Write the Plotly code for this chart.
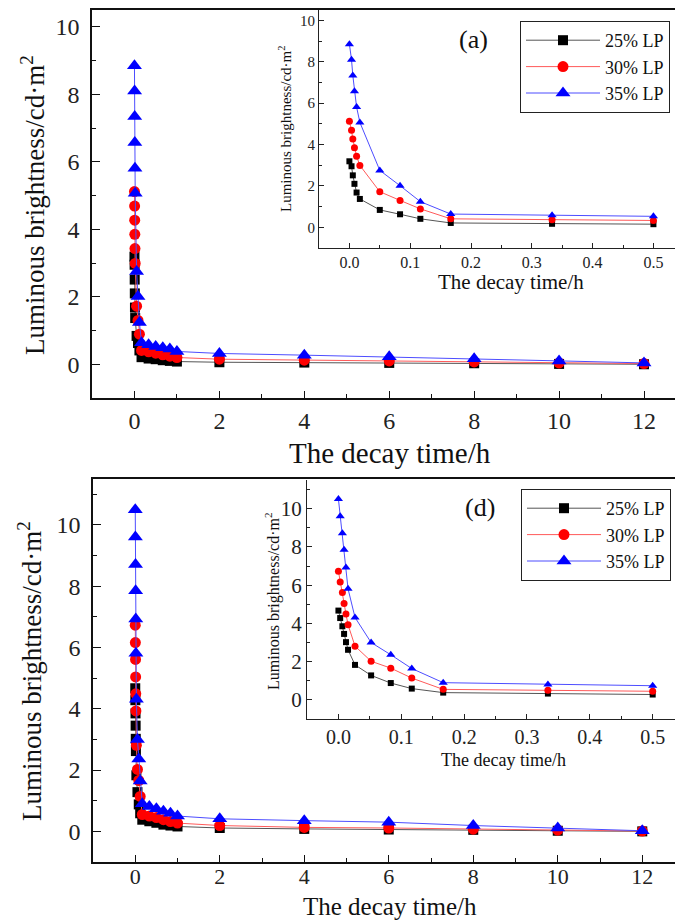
import plotly.graph_objects as go

# ---------------- data ----------------
series_names = ["25% LP", "30% LP", "35% LP"]

# panel (a)
t_a = [0, 0.0035, 0.0056, 0.0083, 0.0118, 0.0172, 0.05, 0.0833, 0.1167, 0.1667,
       0.3333, 0.5, 0.6667, 0.8333, 1, 2, 4, 6, 8, 10, 12]
a25 = [3.19, 2.95, 2.51, 2.10, 1.68, 1.37, 0.84, 0.63, 0.41, 0.21,
       0.17, 0.15, 0.12, 0.10, 0.08, 0.06, 0.05, 0.04, 0.03, 0.01, 0.0]
a30 = [5.12, 4.69, 4.27, 3.85, 3.43, 2.99, 1.72, 1.30, 0.89, 0.41,
       0.37, 0.33, 0.28, 0.24, 0.20, 0.15, 0.12, 0.10, 0.07, 0.04, 0.02]
a35 = [8.85, 8.10, 7.34, 6.57, 5.81, 5.07, 2.75, 2.01, 1.24, 0.64,
       0.58, 0.53, 0.49, 0.45, 0.38, 0.32, 0.27, 0.22, 0.16, 0.10, 0.04]

# panel (d)
t_d = [0, 0.0028, 0.0063, 0.009, 0.012, 0.0153, 0.0264, 0.052, 0.0833, 0.1167, 0.1667,
       0.3333, 0.5, 0.6667, 0.8333, 1, 2, 4, 6, 8, 10, 12]
d25 = [4.67, 4.28, 3.85, 3.45, 3.02, 2.62, 1.83, 1.28, 0.88, 0.59, 0.38,
       0.33, 0.28, 0.22, 0.19, 0.16, 0.11, 0.08, 0.06, 0.05, 0.02, 0.0]
d30 = [6.73, 6.16, 5.61, 5.04, 4.49, 3.93, 2.81, 2.02, 1.66, 1.14, 0.55,
       0.50, 0.45, 0.38, 0.32, 0.27, 0.19, 0.13, 0.11, 0.07, 0.04, 0.01]
d35 = [10.5, 9.61, 8.71, 7.85, 6.93, 5.81, 4.31, 3.00, 2.36, 1.64, 0.90,
       0.81, 0.74, 0.66, 0.59, 0.50, 0.41, 0.35, 0.30, 0.19, 0.11, 0.02]

main_xticks = [0, 2, 4, 6, 8, 10, 12]
inset_xticks = [0.0, 0.1, 0.2, 0.3, 0.4, 0.5]

# ---------------- styles ----------------
FONT = "Times New Roman, Liberation Serif, DejaVu Serif, serif"
W, H = 675, 921
marker_col = ["#000000", "#ff0000", "#0000ff"]
line_col = ["#555555", "#ff5a5a", "#4d4dff"]
symbols = ["square", "circle", "triangle-up"]
main_sizes = [10, 11, 13]
inset_sizes = [6, 7, 8]

def px_x(p):
    return p / W

def px_y(p):
    return 1 - p / H

fig = go.Figure()

def add_panel(t, ys, xa_main, ya_main, xa_in, ya_in, legend_name):
    for i, y in enumerate(ys):
        fig.add_trace(go.Scatter(
            x=t, y=y, mode="lines+markers", name=series_names[i],
            xaxis=xa_main, yaxis=ya_main, legend=legend_name, showlegend=True,
            line=dict(color=line_col[i], width=1),
            marker=dict(color=marker_col[i], symbol=symbols[i], size=main_sizes[i]),
            cliponaxis=False))
    for i, y in enumerate(ys):
        tt = [a for a in t if a <= 0.5]
        yy = [b for a, b in zip(t, y) if a <= 0.5]
        fig.add_trace(go.Scatter(
            x=tt, y=yy, mode="lines+markers", name=series_names[i],
            xaxis=xa_in, yaxis=ya_in, showlegend=False,
            line=dict(color=line_col[i], width=1),
            marker=dict(color=marker_col[i], symbol=symbols[i], size=inset_sizes[i]),
            cliponaxis=False))

add_panel(t_a, [a25, a30, a35], "x", "y", "x2", "y2", "legend")
add_panel(t_d, [d25, d30, d35], "x3", "y3", "x4", "y4", "legend2")

def tf(size):
    return dict(family=FONT, size=size, color="#222")

def main_x(domain, rng, anchor, standoff=0, size=24):
    return dict(domain=domain, range=rng, anchor=anchor, tickvals=main_xticks,
                showline=True, linecolor="#111", linewidth=1.5, mirror=True,
                ticks="inside", ticklen=7, tickwidth=1.2, tickcolor="#111",
                minor=dict(dtick=1, ticks="inside", ticklen=4, tickcolor="#111"),
                showgrid=False, zeroline=False, tickfont=tf(size),
                ticklabelstandoff=standoff)

def main_y(domain, rng, anchor):
    return dict(domain=domain, range=rng, anchor=anchor, tickmode="linear", tick0=0, dtick=2,
                showline=True, linecolor="#111", linewidth=1.5,
                ticks="inside", ticklen=8, tickwidth=1.2, tickcolor="#111",
                minor=dict(dtick=1, ticks="inside", ticklen=4, tickcolor="#111"),
                showgrid=False, zeroline=False, tickfont=tf(24),
                ticklabelstandoff=6)

def inset_x(domain, rng, anchor, size):
    return dict(domain=domain, range=rng, anchor=anchor, tickvals=inset_xticks,
                tickformat=".1f",
                showline=True, linecolor="#222", linewidth=1,
                ticks="inside", ticklen=5, tickwidth=1, tickcolor="#222",
                minor=dict(dtick=0.05, ticks="inside", ticklen=3, tickcolor="#222"),
                showgrid=False, zeroline=False, tickfont=tf(size))

def inset_y(domain, rng, anchor, size):
    return dict(domain=domain, range=rng, anchor=anchor, tickmode="linear", tick0=0, dtick=2,
                showline=True, linecolor="#222", linewidth=1,
                ticks="inside", ticklen=5, tickwidth=1, tickcolor="#222",
                minor=dict(dtick=1, ticks="inside", ticklen=3, tickcolor="#222"),
                showgrid=False, zeroline=False, tickfont=tf(size))

legend_common = dict(xanchor="left", yanchor="top", bgcolor="white",
                     bordercolor="#222", borderwidth=1,
                     font=dict(family=FONT, size=18, color="#111"),
                     itemwidth=74, tracegroupgap=0)

fig.update_layout(
    width=W, height=H, margin=dict(l=0, r=0, t=0, b=0),
    paper_bgcolor="white", plot_bgcolor="rgba(0,0,0,0)",
    font=dict(family=FONT, color="#111"),
    xaxis=main_x([px_x(92), 1.0], [-1, 12.73], "y"),
    yaxis=main_y([px_y(398), px_y(10)], [-1, 10.5], "x"),
    xaxis2=inset_x([px_x(319), 1.0], [-0.05, 0.5355], "y2", 16),
    yaxis2=inset_y([px_y(248), px_y(10)], [-1, 10.5], "x2", 15),
    xaxis3=main_x([px_x(93), 1.0], [-1, 12.775], "y3", standoff=-6, size=22),
    yaxis3=main_y([px_y(862), px_y(479)], [-1, 11.5], "x3"),
    xaxis4=inset_x([px_x(307), 1.0], [-0.05, 0.5355], "y4", 20),
    yaxis4=inset_y([px_y(719), px_y(480)], [-1, 11.5], "x4", 21),
    legend=dict(x=px_x(520), y=px_y(21), **legend_common),
    legend2=dict(x=px_x(521), y=px_y(489), **legend_common),
)

def ann(text, x, y, size, angle=0, yanchor="middle"):
    fig.add_annotation(text=text, x=px_x(x), y=px_y(y), xref="paper", yref="paper",
                       showarrow=False, textangle=angle,
                       font=dict(family=FONT, size=size, color="#111"),
                       xanchor="center", yanchor=yanchor)

ytitle = "Luminous brightness/cd·m<sup>2</sup>"
ann(ytitle, 33, 205, 27, -90)
ann("The decay time/h", 390, 453, 29)
ann(ytitle, 285, 129, 15, -90)
ann("The decay time/h", 511, 282, 21)
ann("(a)", 473, 39, 26)

ann(ytitle, 30, 671, 27, -90)
ann("The decay time/h", 390, 922, 25, yanchor="bottom")
ann(ytitle, 272, 601, 16, -90)
ann("The decay time/h", 503, 760, 18)
ann("(d)", 480, 507, 26)

fig.write_html("out.html")
